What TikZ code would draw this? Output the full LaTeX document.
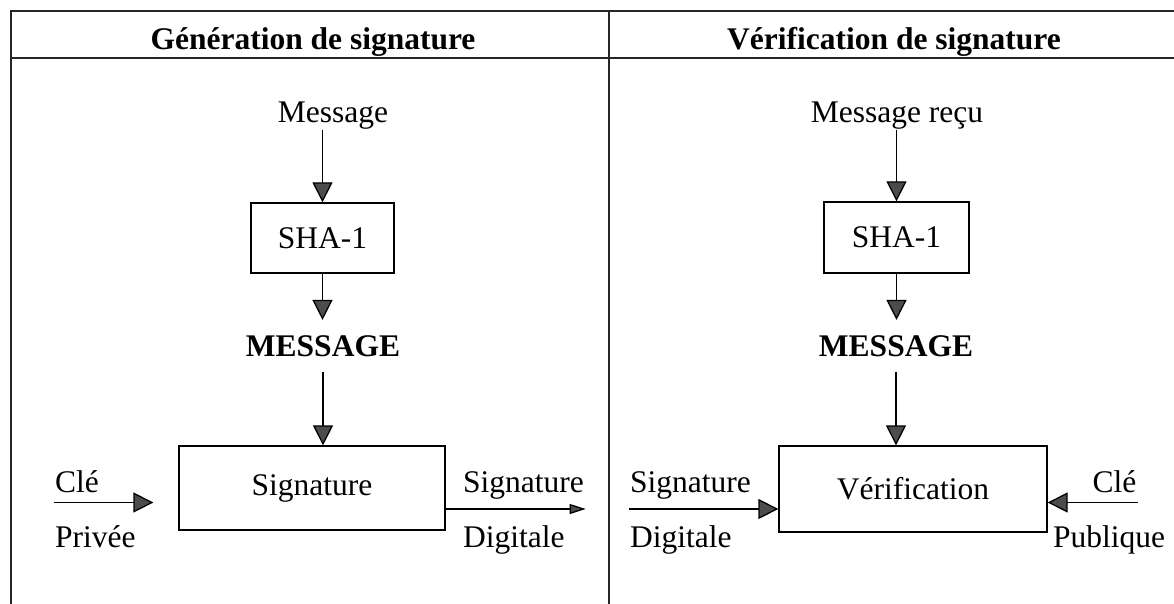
\documentclass[tikz,border=0pt]{standalone}
\usepackage{fontspec}
\setmainfont{Liberation Serif}
\usetikzlibrary{arrows.meta}
\begin{document}
\begin{tikzpicture}[x=1pt,y=-1pt,
  txt/.style={inner sep=0pt, anchor=base, font=\fontsize{31.5}{36}\selectfont},
  bold/.style={txt, font=\fontsize{31.5}{36}\selectfont\bfseries},
  keylabel/.style={txt, anchor=base west, inner xsep=1.5pt, inner ysep=10pt},
  proc/.style={draw, line width=1.3pt, inner sep=0pt, font=\fontsize{31.5}{36}\selectfont},
  flow/.style={line width=1.3pt, -{Triangle[width=20pt,length=20pt,fill=black!70]}},
  frame/.style={line width=1.8pt, black!85},
]
\useasboundingbox (0,0) rectangle (1174,604);

% table frame
\draw[frame] (11,604) -- (11,11) -- (1174,11);
\draw[frame] (11,58) -- (1174,58);
\draw[frame] (609,11) -- (609,604);

% column headers
\node[bold] (hgen) at (313,50) {Génération de signature};
\node[bold] (hver) at (894,50) {Vérification de signature};

% ---- signature generation ----
\node[txt] (msg1) at (333,123) {Message};
\node[proc, minimum width=143pt, minimum height=70pt] (sha1) at (322.5,238) {SHA-1};
\node[bold, inner ysep=15pt] (hash1) at (323,356) {MESSAGE};
\node[proc, minimum width=266pt, minimum height=84pt] (sig) at (312,488) {Signature};
\node[keylabel] (cle1) at (53.5,492) {Clé};
\node[txt, anchor=base west] (priv) at (55,547) {Privée};
\node[keylabel] (sd1) at (461.5,492) {Signature};
\node[txt, anchor=base west] (dig1) at (463,547) {Digitale};

\draw[flow] (sha1.north |- msg1.south) -- (sha1.north);
\draw[flow] (sha1.south) -- (sha1.south |- hash1.north);
\draw[flow] (hash1.south) -- (hash1.south |- sig.north);
\draw[flow, shorten >=25pt] (cle1.south west) -- (cle1.south -| sig.west);
\draw[line width=1.3pt, -{Triangle[width=10pt,length=16pt,fill=black!70]}]
  (sig.east |- sd1.south) -- (sd1.south east);

% ---- signature verification ----
\node[txt] (msg2) at (897,123) {Message reçu};
\node[proc, minimum width=145pt, minimum height=71pt] (sha2) at (896.5,237.5) {SHA-1};
\node[bold, inner ysep=15pt] (hash2) at (896,356) {MESSAGE};
\node[proc, minimum width=268pt, minimum height=86pt] (ver) at (913,489) {Vérification};
\node[keylabel] (sd2) at (628.5,492) {Signature};
\node[txt, anchor=base west] (dig2) at (630,547) {Digitale};
\node[keylabel] (cle2) at (1091,492) {Clé};
\node[txt, anchor=base west] (pub) at (1053,547) {Publique};

\draw[flow] (sha2.north |- msg2.south) -- (sha2.north);
\draw[flow] (sha2.south) -- (sha2.south |- hash2.north);
\draw[flow] (hash2.south) -- (hash2.south |- ver.north);
\draw[flow] (sd2.south west) -- (sd2.south -| ver.west);
\draw[flow] (cle2.south east) -- (cle2.south -| ver.east);
\end{tikzpicture}
\end{document}
